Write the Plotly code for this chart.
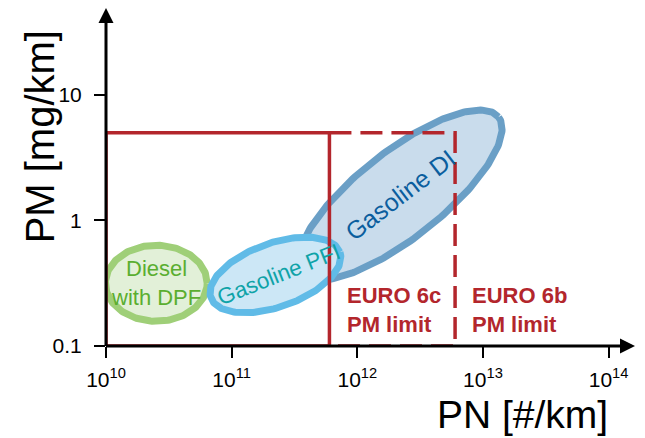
import numpy as np
import plotly.graph_objects as go

# ---- data (log10 units for PN [#/km] and PM [mg/km]) ----
x_tick_exponents = [10, 11, 12, 13, 14]
y_tick_values = [0.1, 1, 10]
y_tick_labels = ["0.1", "1", "10"]

# EURO limits
euro6c_pn = 6e11
euro6b_pn = 6e12
pm_limit = 5.0
pm_floor = 0.1
pn_floor = 1e10

# technology regions: center (log10 PN, log10 PM), semi-axes (decades), tilt (deg)
tech_names = ["Diesel<br>with DPF", "Gasoline DI", "Gasoline PFI"]
tech_center_logpn = [10.40, 12.34, 11.348]
tech_center_logpm = [-0.50, 0.203, -0.434]
tech_semi_major = [0.405, 1.0, 0.545]
tech_semi_minor = [0.303, 0.343, 0.255]
tech_tilt_deg = [0.0, 38.4, 19.5]

tech_line = ["#9fcf78", "#6a9fc6", "#60bbe7"]
tech_fill = ["#e2f0d8", "#c9dcec", "#cce7f6"]
tech_text = ["#5aae30", "#0b5e9e", "#0fa3a8"]
tech_font = [22, 25, 22.5]
tech_text_angle = [0, -37.5, -21.5]
tech_label_dx = [0.0, 0.0, 0.03]
red = "#b3262c"

fig = go.Figure()

t = np.linspace(0, 2 * np.pi, 240)
for i in range(len(tech_names)):
    th = np.deg2rad(tech_tilt_deg[i])
    a, b = tech_semi_major[i], tech_semi_minor[i]
    ex = tech_center_logpn[i] + a * np.cos(t) * np.cos(th) - b * np.sin(t) * np.sin(th)
    ey = tech_center_logpm[i] + a * np.cos(t) * np.sin(th) + b * np.sin(t) * np.cos(th)
    fig.add_trace(go.Scatter(
        x=10 ** ex, y=10 ** ey, mode="lines", fill="toself",
        fillcolor=tech_fill[i], line=dict(color=tech_line[i], width=7),
        hoverinfo="skip", showlegend=False))

# EURO 6c (solid) box
fig.add_trace(go.Scatter(
    x=[pn_floor, pn_floor, euro6c_pn, euro6c_pn, pn_floor],
    y=[pm_floor, pm_limit, pm_limit, pm_floor, pm_floor],
    mode="lines", line=dict(color=red, width=3.5),
    hoverinfo="skip", showlegend=False))
# EURO 6b (dashed) extension
fig.add_trace(go.Scatter(
    x=[euro6c_pn, euro6b_pn, euro6b_pn, euro6c_pn],
    y=[pm_limit, pm_limit, pm_floor, pm_floor],
    mode="lines", line=dict(color=red, width=3.5, dash="22px,9px"),
    hoverinfo="skip", showlegend=False))

X_MAX = 14.21
Y_MAX = 1.693

annotations = []
# axis arrows
annotations.append(dict(x=X_MAX, y=-1, ax=9.988, ay=-1, xref="x", yref="y",
                        axref="x", ayref="y", showarrow=True, arrowhead=2,
                        arrowsize=1, arrowwidth=3, arrowcolor="black", text=""))
annotations.append(dict(x=10, y=Y_MAX, ax=10, ay=-1.012, xref="x", yref="y",
                        axref="x", ayref="y", showarrow=True, arrowhead=2,
                        arrowsize=1, arrowwidth=3, arrowcolor="black", text=""))

# technology labels
for i in range(len(tech_names)):
    annotations.append(dict(
        x=tech_center_logpn[i] + tech_label_dx[i], y=tech_center_logpm[i],
        xref="x", yref="y", xanchor="center", yanchor="middle",
        text=tech_names[i], showarrow=False, textangle=tech_text_angle[i],
        font=dict(size=tech_font[i], color=tech_text[i],
                  family="Liberation Sans, Arial, sans-serif")))

# EURO labels
for txt, xpos in [("EURO 6c<br>PM limit", np.log10(euro6c_pn) + 0.12),
                  ("EURO 6b<br>PM limit", np.log10(euro6b_pn) + 0.12)]:
    annotations.append(dict(
        x=xpos, y=-0.71, xref="x", yref="y", xanchor="left", yanchor="middle",
        align="left", text="<b>" + txt + "</b>", showarrow=False,
        font=dict(size=22, color=red, family="Liberation Sans, Arial, sans-serif")))

# axis titles
annotations.append(dict(x=-0.123, y=0.62, xref="paper", yref="paper",
                        xanchor="center", yanchor="middle",
                        text="PM [mg/km]", textangle=-90, showarrow=False,
                        font=dict(size=40, color="black")))
annotations.append(dict(x=0.787, y=-0.204, xref="paper", yref="paper",
                        xanchor="center", yanchor="middle",
                        text="PN [#/km]", showarrow=False,
                        font=dict(size=39, color="black")))

# page body has an 8px margin, so the figure is laid out 8px smaller
fig.update_layout(
    width=637, height=430,
    margin=dict(l=98, r=10, t=0, b=92),
    paper_bgcolor="white", plot_bgcolor="white",
    font=dict(family="Liberation Sans, Arial, sans-serif", color="black"),
    showlegend=False,
    annotations=annotations,
    xaxis=dict(type="log", range=[10, X_MAX], showgrid=False, zeroline=False,
               showline=False, ticks="outside", ticklen=11, tickwidth=2,
               tickcolor="black", ticklabelstandoff=4,
               tickvals=[10 ** e for e in x_tick_exponents],
               ticktext=["10<sup>%d</sup>" % e for e in x_tick_exponents],
               tickfont=dict(size=21, color="black")),
    yaxis=dict(type="log", range=[-1, Y_MAX], showgrid=False, zeroline=False,
               showline=False, ticks="outside", ticklen=11, tickwidth=2,
               tickcolor="black", ticklabelstandoff=8,
               tickvals=y_tick_values, ticktext=y_tick_labels,
               tickfont=dict(size=21, color="black")),
)

fig.write_html("out.html")
